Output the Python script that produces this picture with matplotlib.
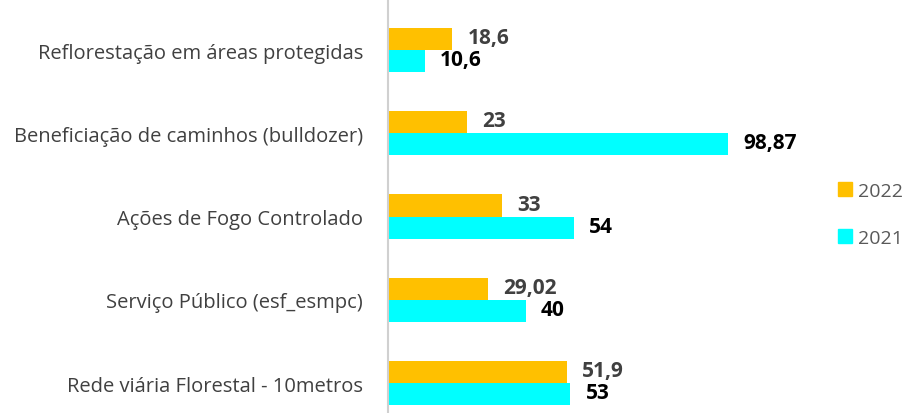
import matplotlib.pyplot as plt
from matplotlib.patches import Patch

plt.rcParams['font.family'] = ['Open Sans', 'DejaVu Sans']

# Categories, top to bottom
categories = ['Reflorestação em áreas protegidas',
              'Beneficiação de caminhos (bulldozer)',
              'Ações de Fogo Controlado',
              'Serviço Público (esf_esmpc)',
              'Rede viária Florestal - 10metros']
v2022 = [18.6, 23, 33, 29.02, 51.9]
v2021 = [10.6, 98.87, 54, 40, 53]
lbl2022 = ['18,6', '23', '33', '29,02', '51,9']
lbl2021 = ['10,6', '98,87', '54', '40', '53']

c2022 = '#FFC000'
c2021 = '#00FFFF'

fig = plt.figure(figsize=(9.09, 4.14), dpi=100)
ax = fig.add_axes([0.427, 0.0, 0.473, 1.0])

h = 0.265
pos = list(range(len(categories)))
ax.barh([p - h / 2 for p in pos], v2022, height=h, color=c2022)
ax.barh([p + h / 2 for p in pos], v2021, height=h, color=c2021)

for p, v, t in zip(pos, v2022, lbl2022):
    ax.annotate(t, (v, p - h / 2), xytext=(11, 1), textcoords='offset points',
                va='center', ha='left', fontsize=15, fontweight='bold', color='#404040')
for p, v, t in zip(pos, v2021, lbl2021):
    ax.annotate(t, (v, p + h / 2), xytext=(11, 1), textcoords='offset points',
                va='center', ha='left', fontsize=15, fontweight='bold', color='black')

ax.set_xlim(0, 125)
ax.set_ylim(4.36, -0.613)
ax.set_yticks(pos)
ax.set_yticklabels(categories, fontsize=14.5, color='#404040')
ax.tick_params(axis='y', length=0, pad=18)
ax.set_xticks([])
for s in ['top', 'right', 'bottom']:
    ax.spines[s].set_visible(False)
ax.spines['left'].set_color('#D0D0D0')
ax.spines['left'].set_linewidth(1.5)

handles = [Patch(color=c2022, label='2022'), Patch(color=c2021, label='2021')]
fig.legend(handles=handles, loc='center left', bbox_to_anchor=(0.922, 0.48),
           frameon=False, fontsize=14, labelcolor='#595959', borderpad=0,
           borderaxespad=0, handlelength=0.7, handleheight=0.7,
           handletextpad=0.3, labelspacing=1.5)

fig.savefig('out.png', dpi=100)
